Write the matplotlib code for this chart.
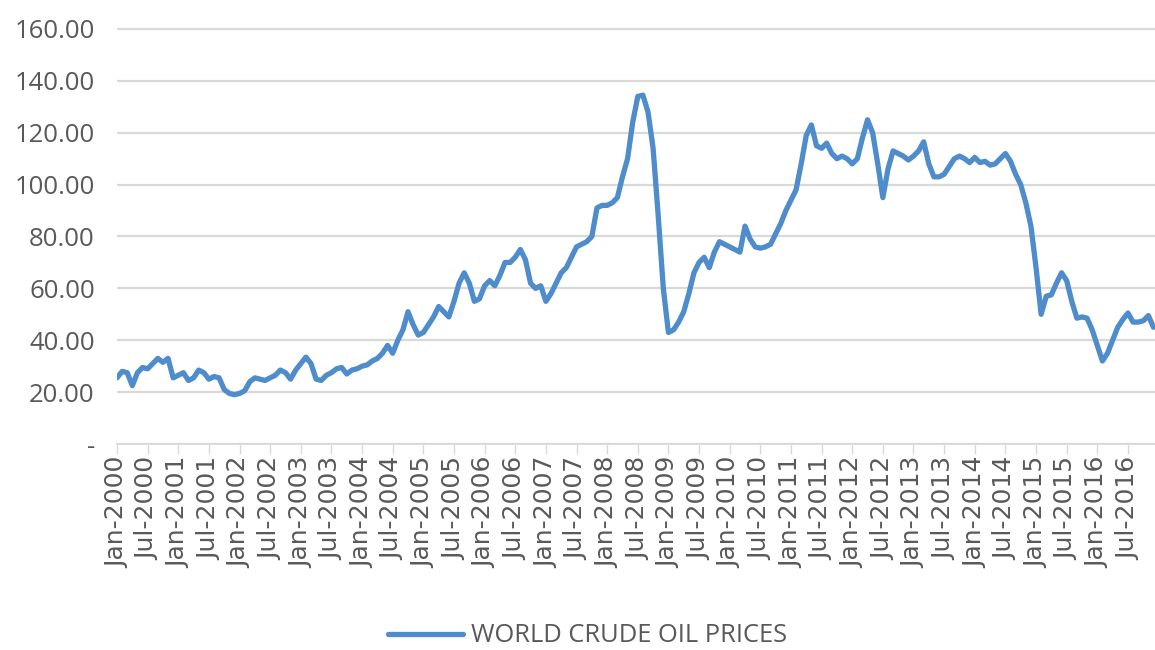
import matplotlib
matplotlib.use("Agg")
import matplotlib.pyplot as plt
import numpy as np

# Monthly world crude oil prices, Jan-2000 .. Dec-2016
y2000 = [25.5, 28.0, 27.5, 22.5, 27.5, 29.5, 29.0, 31.0, 33.0, 31.5, 33.0, 25.5]
y2001 = [26.5, 27.5, 24.5, 25.5, 28.5, 27.5, 25.0, 26.0, 25.5, 21.0, 19.5, 19.0]
y2002 = [19.5, 20.5, 24.0, 25.5, 25.0, 24.5, 25.5, 26.5, 28.5, 27.5, 25.0, 28.5]
y2003 = [31.0, 33.5, 31.0, 25.0, 24.5, 26.5, 27.5, 29.0, 29.5, 27.0, 28.5, 29.0]
y2004 = [30.0, 30.5, 32.0, 33.0, 35.0, 38.0, 35.0, 40.0, 44.0, 51.0, 46.0, 42.0]
y2005 = [43.0, 46.0, 49.0, 53.0, 51.0, 49.0, 55.0, 62.0, 66.0, 62.0, 55.0, 56.0]
y2006 = [61.0, 63.0, 61.0, 65.0, 70.0, 70.0, 72.0, 75.0, 71.0, 62.0, 60.0, 61.0]
y2007 = [55.0, 58.0, 62.0, 66.0, 68.0, 72.0, 76.0, 77.0, 78.0, 80.0, 91.0, 92.0]
y2008 = [92.0, 93.0, 95.0, 103.0, 110.0, 124.0, 134.0, 134.5, 128.0, 114.0, 88.0, 60.0]
y2009 = [43.0, 44.0, 47.0, 51.0, 58.0, 66.0, 70.0, 72.0, 68.0, 74.0, 78.0, 77.0]
y2010 = [76.0, 75.0, 74.0, 84.0, 79.0, 76.0, 75.5, 76.0, 77.0, 81.0, 85.0, 90.0]
y2011 = [94.0, 98.0, 108.0, 119.0, 123.0, 115.0, 114.0, 116.0, 112.0, 110.0, 111.0, 110.0]
y2012 = [108.0, 110.0, 118.0, 125.0, 120.0, 108.0, 95.0, 106.0, 113.0, 112.0, 111.0, 109.5]
y2013 = [111.0, 113.0, 116.5, 108.0, 103.0, 103.0, 104.0, 107.0, 110.0, 111.0, 110.0, 108.5]
y2014 = [110.5, 108.5, 109.0, 107.5, 108.0, 110.0, 112.0, 109.0, 104.0, 100.0, 93.0, 84.0]
y2015 = [68.0, 50.0, 57.0, 57.5, 62.0, 66.0, 63.0, 55.0, 48.5, 49.0, 48.5, 44.0]
y2016 = [38.0, 32.0, 35.0, 40.0, 45.0, 48.0, 50.5, 47.0, 47.0, 47.5, 49.5, 45.0]

prices = (y2000 + y2001 + y2002 + y2003 + y2004 + y2005 + y2006 + y2007 + y2008
          + y2009 + y2010 + y2011 + y2012 + y2013 + y2014 + y2015 + y2016)

years = list(range(2000, 2017))
tick_labels = [f"{m}-{y}" for y in years for m in ("Jan", "Jul")]
ytick_values = [0, 20, 40, 60, 80, 100, 120, 140, 160]
ytick_labels = ["-", "20.00", "40.00", "60.00", "80.00", "100.00", "120.00", "140.00", "160.00"]
series_name = "WORLD CRUDE OIL PRICES"

LINE = "#4e8ccb"
TXT = "#595959"
GRID = "#d9d9d9"

W, H = 1155, 650
fig = plt.figure(figsize=(W / 100, H / 100), dpi=100)
ppu = (444 - 29) / 160.0
top_val = 161
ax = fig.add_axes([117 / W, (H - 444) / H, 1 - 117 / W, (top_val * ppu) / H])

x = np.arange(len(prices))
line, = ax.plot(x, prices, color=LINE, lw=3.8, solid_joinstyle="round",
                solid_capstyle="round", label=series_name, zorder=3)

ax.set_ylim(0, top_val)
ax.set_xlim(0, 203.3)
ax.set_yticks(ytick_values)
ax.set_yticklabels(ytick_labels, family="Open Sans", fontsize=18.5, color=TXT)
ax.set_xticks(np.arange(0, len(tick_labels) * 6, 6))
ax.set_xticklabels(tick_labels, rotation=90, family="DejaVu Sans", fontsize=18,
                   color=TXT, ha="center", va="top")

ax.grid(axis="y", color=GRID, lw=1.6, zorder=0)
ax.set_axisbelow(True)
for s in ("left", "right", "top"):
    ax.spines[s].set_visible(False)
ax.spines["bottom"].set_color(GRID)
ax.spines["bottom"].set_linewidth(1.3)
ax.tick_params(axis="y", length=0, pad=16)
ax.tick_params(axis="x", length=7, width=1.0, color=GRID, pad=2)

leg = fig.legend(handles=[line], loc="center", bbox_to_anchor=(588 / W, 1 - 636 / H),
                 frameon=False, handlelength=2.9, handletextpad=0.35,
                 prop={"family": "Open Sans", "size": 18.4}, labelcolor=TXT)

fig.savefig("out.png", dpi=100)
